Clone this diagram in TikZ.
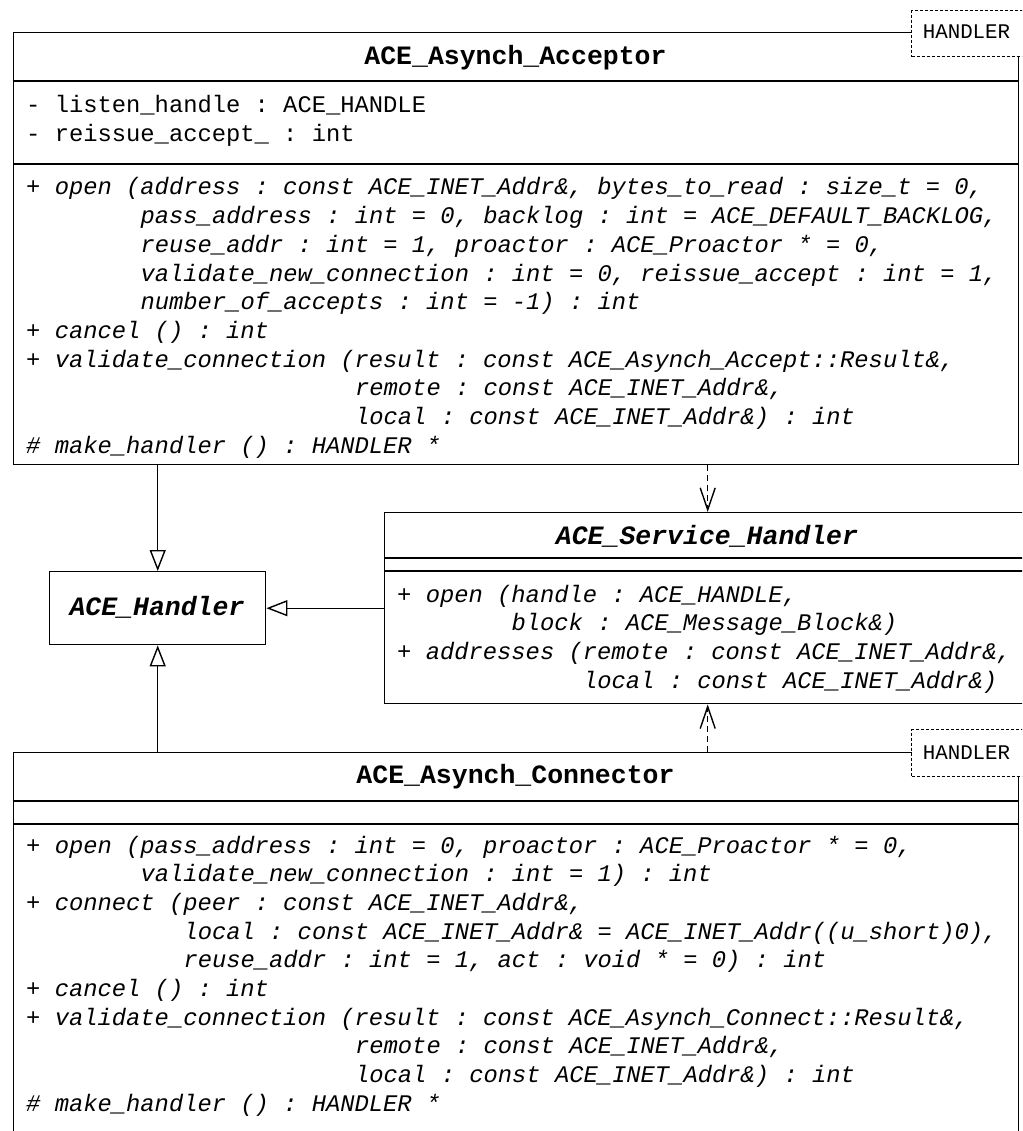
\documentclass[tikz,border=0pt]{standalone}
\usepackage{fontspec}
\setmonofont{Liberation Mono}
\usepackage{tikz}
\usetikzlibrary{arrows.meta}

\newcommand\memberfont{\ttfamily\fontsize{23.8}{28.7}\selectfont}
\newcommand\titlefont{\ttfamily\bfseries\fontsize{26.5}{32}\selectfont}
\newcommand\paramfont{\ttfamily\fontsize{20.8}{25}\selectfont}

\tikzset{
  classbox/.style={draw, line width=1.4pt, fill=white, inner sep=0pt,
    anchor=north west},
  parambox/.style={draw, dash pattern=on 3pt off 2pt, line width=1.1pt,
    fill=white, inner sep=0pt, anchor=north west},
  classname/.style={font=\titlefont, anchor=base, inner sep=0pt},
  paramname/.style={font=\paramfont, anchor=base, inner sep=0pt},
  attr/.style={font=\memberfont, anchor=base west, inner sep=0pt},
  oper/.style={font=\memberfont\itshape, anchor=base west, inner sep=0pt},
  inherit/.style={line width=1.4pt, -{Triangle[open, length=21pt, width=16pt]}},
  depend/.style={line width=1.4pt, dash pattern=on 6pt off 4pt,
    -{Straight Barb[length=22pt, width=15pt]}}
}

\begin{document}
\begin{tikzpicture}[x=1pt, y=-1pt]
  \clip (0,0) rectangle (1022,1131);

  % ACE_Asynch_Acceptor
  \node[classbox, minimum width=1005pt, minimum height=432pt] (acceptor)
  at (13,32) {};
  \draw[line width=1.4pt] (13,81) -- (1018,81); \draw[line width=1.4pt]
  (13,164) -- (1018,164);
  \node[parambox, minimum width=130pt, minimum height=46pt] (acceptorparam)
  at (911,10) {};
  \node[paramname] (acceptorparamname) at (966.5,39) {HANDLER};
  \node[classname] (acceptorname) at (515.5,65) {ACE\_Asynch\_Acceptor};

  \node[attr] (acc1) at (26,113) {- listen\_handle : ACE\_HANDLE};
  \node[attr] (acc2) at (26,142) {- reissue\_accept\_ : int};

  \node[oper] (aop1) at (26,195) {+ open (address : const ACE\_INET\_Addr\&, bytes\_to\_read : size\_t = 0,};
  \node[oper] (aop2) at (140.4,223.7) {pass\_address : int = 0, backlog : int = ACE\_DEFAULT\_BACKLOG,};
  \node[oper] (aop3) at (140.4,252.4) {reuse\_addr : int = 1, proactor : ACE\_Proactor * = 0,};
  \node[oper] (aop4) at (140.4,281.1) {validate\_new\_connection : int = 0, reissue\_accept : int = 1,};
  \node[oper] (aop5) at (140.4,309.8) {number\_of\_accepts : int = -1) : int};
  \node[oper] (aop6) at (26,338.5) {+ cancel () : int};
  \node[oper] (aop7) at (26,367.2) {+ validate\_connection (result : const ACE\_Asynch\_Accept::Result\&,};
  \node[oper] (aop8) at (354.9,395.9) {remote : const ACE\_INET\_Addr\&,};
  \node[oper] (aop9) at (354.9,424.6) {local : const ACE\_INET\_Addr\&) : int};
  \node[oper] (aop10) at (26,453.3) {\# make\_handler () : HANDLER *};

  % ACE_Service_Handler
  \node[classbox, minimum width=646pt, minimum height=191pt] (servicehandler)
  at (384,512) {};
  \draw[line width=1.4pt] (384,558) -- (1030,558); \draw[line width=1.4pt]
  (384,571) -- (1030,571);
  \node[classname, font=\titlefont\itshape] (servicehandlername) at (707,544)
  {ACE\_Service\_Handler};

  \node[oper] (sop1) at (397,602) {+ open (handle : ACE\_HANDLE,};
  \node[oper] (sop2) at (511.4,630.7) {block : ACE\_Message\_Block\&)};
  \node[oper] (sop3) at (397,659.4) {+ addresses (remote : const ACE\_INET\_Addr\&,};
  \node[oper] (sop4) at (582.9,688.1) {local : const ACE\_INET\_Addr\&)};

  % ACE_Handler
  \node[classbox, minimum width=216pt, minimum height=73pt] (handler)
  at (49,571) {};
  \node[classname, font=\titlefont\itshape] (handlername) at (157,615)
  {ACE\_Handler};

  % ACE_Asynch_Connector
  \node[classbox, minimum width=1005pt, minimum height=420pt] (connector)
  at (13,752) {};
  \draw[line width=1.4pt] (13,801) -- (1018,801); \draw[line width=1.4pt]
  (13,824) -- (1018,824);
  \node[parambox, minimum width=130pt, minimum height=47pt] (connectorparam)
  at (911,729) {};
  \node[paramname] (connectorparamname) at (966.5,759) {HANDLER};
  \node[classname] (connectorname) at (515.5,783) {ACE\_Asynch\_Connector};

  \node[oper] (cop1) at (26,853) {+ open (pass\_address : int = 0, proactor : ACE\_Proactor * = 0,};
  \node[oper] (cop2) at (140.4,881.7) {validate\_new\_connection : int = 1) : int};
  \node[oper] (cop3) at (26,910.4) {+ connect (peer : const ACE\_INET\_Addr\&,};
  \node[oper] (cop4) at (183.3,939.1) {local : const ACE\_INET\_Addr\& = ACE\_INET\_Addr((u\_short)0),};
  \node[oper] (cop5) at (183.3,967.8) {reuse\_addr : int = 1, act : void * = 0) : int};
  \node[oper] (cop6) at (26,996.5) {+ cancel () : int};
  \node[oper] (cop7) at (26,1025.2) {+ validate\_connection (result : const ACE\_Asynch\_Connect::Result\&,};
  \node[oper] (cop8) at (354.9,1053.9) {remote : const ACE\_INET\_Addr\&,};
  \node[oper] (cop9) at (354.9,1082.6) {local : const ACE\_INET\_Addr\&) : int};
  \node[oper] (cop10) at (26,1111.3) {\# make\_handler () : HANDLER *};

  % relations
  \draw[inherit] (handler.north |- acceptor.south) -- (handler.north);
  \draw[inherit] (servicehandler.west) -- (handler.east);
  \draw[inherit] (handler.south |- connector.north) -- (handler.south);
  \draw[depend] (servicehandler.north |- acceptor.south) -- (servicehandler.north);
  \draw[depend] (servicehandler.south |- connector.north) -- (servicehandler.south);
\end{tikzpicture}
\end{document}
